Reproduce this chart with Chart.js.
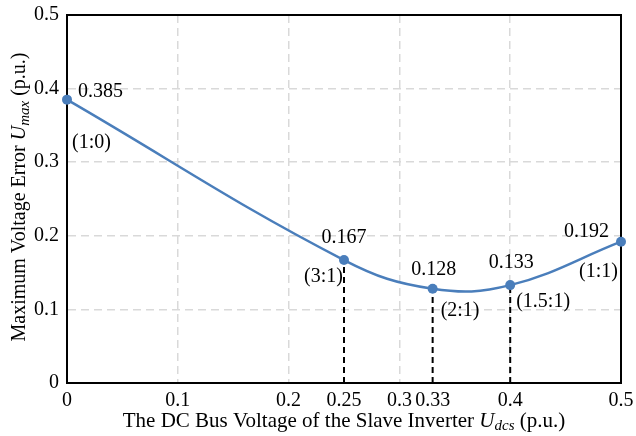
<!DOCTYPE html>
<html>
<head>
<meta charset="utf-8">
<script src="https://cdn.jsdelivr.net/npm/chart.js@4.4.1/dist/chart.umd.min.js"></script>
<style>
  html, body { margin: 0; padding: 0; background: #fff; }
  #wrap { width: 636px; height: 436px; }
</style>
</head>
<body>
<div id="wrap"><canvas id="chart"></canvas></div>
<script>
// data
const xValues = [0, 0.25, 0.33, 0.4, 0.5];
const yValues = [0.385, 0.167, 0.128, 0.133, 0.192];
const valueLabels = ['0.385', '0.167', '0.128', '0.133', '0.192'];
const ratioLabels = ['(1:0)', '(3:1)', '(2:1)', '(1.5:1)', '(1:1)'];
const xTickValues = [0, 0.1, 0.2, 0.25, 0.3, 0.33, 0.4, 0.5];
const dropIndices = [1, 2, 3];
const noGridAt = [0.25, 0.33];

const FONT = "'Liberation Serif', 'Times New Roman', serif";
const blue = '#4a7ebb';

// label placement relative to the point: [dx, dy, align]
const valueOffsets = [[11, -8, 'left'], [0, -22, 'center'], [1, -19, 'center'], [1, -22, 'center'], [-12, -10, 'right']];
const ratioOffsets = [[5, 43, 'left'], [-1, 17, 'right'], [8, 22, 'left'], [6, 17, 'left'], [-3, 30, 'right']];

const mainData = xValues.map((x, i) => ({ x: x, y: yValues[i] }));
const dropSets = dropIndices.map(i => ({
    data: [{ x: xValues[i], y: 0 }, { x: xValues[i], y: yValues[i] }],
    borderColor: '#000',
    borderWidth: 2,
    borderDash: [6, 4],
    pointRadius: 0,
    tension: 0,
    clip: false
}));

// text with an italic variable and subscript
function drawTitle(ctx, parts, x, y) {
    let total = 0;
    parts.forEach(p => {
        ctx.font = (p.italic ? 'italic ' : '') + p.size + 'px ' + FONT;
        p.w = ctx.measureText(p.text).width;
        total += p.w;
    });
    let cx = x - total / 2;
    ctx.textAlign = 'left';
    ctx.textBaseline = 'middle';
    ctx.fillStyle = '#000';
    parts.forEach(p => {
        ctx.font = (p.italic ? 'italic ' : '') + p.size + 'px ' + FONT;
        ctx.fillText(p.text, cx, y + (p.sub ? 5 : 0));
        cx += p.w;
    });
}

const extras = {
    id: 'extras',
    beforeDatasetsDraw(chart) {
        const { ctx, chartArea: a } = chart;
        ctx.save();
        ctx.strokeStyle = '#000';
        ctx.lineWidth = 2;
        ctx.strokeRect(a.left, a.top, a.right - a.left, a.bottom - a.top);
        ctx.restore();
    },
    afterDraw(chart) {
        const { ctx, chartArea: a } = chart;
        const meta = chart.getDatasetMeta(0);
        ctx.save();
        ctx.fillStyle = '#000';
        ctx.font = '20px ' + FONT;
        ctx.textBaseline = 'middle';
        meta.data.forEach((pt, i) => {
            let o = valueOffsets[i];
            ctx.textAlign = o[2];
            ctx.fillText(valueLabels[i], pt.x + o[0], pt.y + o[1]);
            o = ratioOffsets[i];
            ctx.textAlign = o[2];
            ctx.fillText(ratioLabels[i], pt.x + o[0], pt.y + o[1]);
        });
        drawTitle(ctx, [
            { text: 'The DC Bus Voltage of the Slave Inverter ', size: 21 },
            { text: 'U', size: 21, italic: true },
            { text: 'dcs', size: 15, italic: true, sub: true },
            { text: ' (p.u.)', size: 21 }
        ], (a.left + a.right) / 2, 421);
        ctx.translate(20, (a.top + a.bottom) / 2 - 2);
        ctx.rotate(-Math.PI / 2);
        drawTitle(ctx, [
            { text: 'Maximum Voltage Error ', size: 20 },
            { text: 'U', size: 20, italic: true },
            { text: 'max', size: 15, italic: true, sub: true },
            { text: ' (p.u.)', size: 20 }
        ], 0, 0);
        ctx.restore();
    }
};

new Chart(document.getElementById('chart'), {
    type: 'line',
    data: {
        datasets: [{
            data: mainData,
            borderColor: blue,
            backgroundColor: blue,
            borderWidth: 2.5,
            pointRadius: 5,
            pointBackgroundColor: blue,
            pointBorderWidth: 0,
            tension: 0.4,
            clip: false
        }].concat(dropSets)
    },
    options: {
        responsive: true,
        maintainAspectRatio: false,
        animation: false,
        layout: { padding: { top: 15, right: 15, left: 0, bottom: 0 } },
        plugins: { legend: { display: false }, tooltip: { enabled: false } },
        scales: {
            x: {
                type: 'linear',
                min: 0,
                max: 0.5,
                afterBuildTicks: s => { s.ticks = xTickValues.map(v => ({ value: v })); },
                afterFit: s => { s.height = 53; s.paddingRight = 0; s.paddingLeft = 0; },
                ticks: {
                    autoSkip: false,
                    maxRotation: 0,
                    padding: 6,
                    color: '#000',
                    font: { family: FONT, size: 20 },
                    callback: v => String(v)
                },
                grid: {
                    drawTicks: false,
                    lineWidth: 1.5,
                    color: c => (noGridAt.includes(c.tick.value) || c.tick.value === 0 || c.tick.value === 0.5) ? 'rgba(0,0,0,0)' : '#d9d9d9'
                },
                border: { display: true, color: '#000', width: 2, dash: [8, 5] }
            },
            y: {
                min: 0,
                max: 0.5,
                afterFit: s => { s.width = 67; s.paddingTop = 0; s.paddingBottom = 0; },
                ticks: {
                    stepSize: 0.1,
                    padding: 8,
                    color: '#000',
                    font: { family: FONT, size: 20 }
                },
                grid: {
                    drawTicks: false,
                    lineWidth: 1.5,
                    color: c => (c.tick.value === 0 || c.tick.value === 0.5) ? 'rgba(0,0,0,0)' : '#d9d9d9'
                },
                border: { display: true, color: '#000', width: 2, dash: [8, 5] }
            }
        }
    },
    plugins: [extras]
});
</script>
</body>
</html>
